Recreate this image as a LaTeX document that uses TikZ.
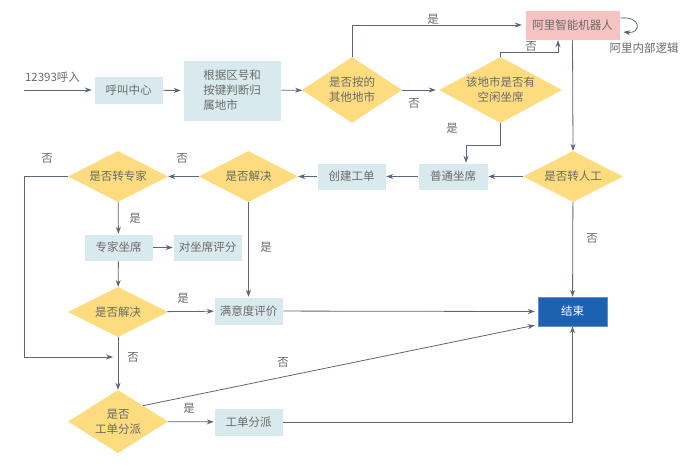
\documentclass[tikz,border=0pt]{standalone}
\usepackage{fontspec}
\setmainfont{Noto Sans CJK SC}
\usetikzlibrary{shapes.geometric,arrows.meta}
\definecolor{boxfill}{HTML}{D9EAEE}
\definecolor{dfill}{HTML}{FCDC7E}
\definecolor{pinkfill}{HTML}{F7C2C2}
\definecolor{bluefill}{HTML}{1D62B0}
\definecolor{txt}{HTML}{6A6A6A}
\definecolor{ln}{HTML}{5D6579}
\begin{document}
\begin{tikzpicture}[x=1pt,y=-1pt,
  font=\fontsize{11.5}{15}\selectfont, text=txt,
  procbox/.style={rectangle, fill=boxfill, draw=white, line width=0.5pt, inner sep=0pt, minimum width=69pt, minimum height=28pt, align=center},
  decis/.style={diamond, fill=dfill, inner sep=0pt, minimum width=100pt, minimum height=51pt,
    label={[align=center, text=txt, inner sep=0pt]center:#1}},
  arr/.style={draw=ln, line width=0.8pt, -{Stealth[length=7pt,width=5pt]}},
  lbl/.style={inner sep=0pt}
]
\useasboundingbox (0,0) rectangle (692,469);

% nodes
\node[lbl] (inlbl) at (52.5,77) {12393呼入};
\coordinate (start) at (24,90);
\node[procbox] (call) at (128.5,90) {呼叫中心};
\node[procbox, minimum width=98pt, minimum height=61pt, align=left] (judge) at (232,90.5) {根据区号和\\按键判断归\\属地市};
\node[decis={是否按的\\其他地市}, minimum height=66pt] (d1) at (352,90) {};
\node[decis={该地市是否有\\空闲坐席}, minimum width=123pt, minimum height=66pt] (d2) at (500.5,90) {};
\node[procbox, fill=pinkfill, minimum width=95pt, minimum height=30pt] (robot) at (572.5,25) {阿里智能机器人};
\node[lbl] (inner) at (644,48) {阿里内部逻辑};
\node[decis={是否转人工}] (dman) at (573,176.5) {};
\node[procbox, minimum width=70pt, minimum height=27pt] (normal) at (453,176.5) {普通坐席};
\node[procbox, minimum height=27pt] (create) at (351.5,176.5) {创建工单};
\node[decis={是否解决}, minimum width=99pt] (ds1) at (248.5,176.5) {};
\node[decis={是否转专家}] (dexp) at (118,176.5) {};
\node[procbox, minimum height=27pt] (expert) at (118.5,247.5) {专家坐席};
\node[procbox, minimum height=27pt] (rate) at (207.5,247.5) {对坐席评分};
\node[decis={是否解决}, minimum height=50pt] (ds2) at (118,312) {};
\node[procbox] (satis) at (248.5,311) {满意度评价};
\node[procbox, fill=bluefill, draw=bluefill!70!white, minimum height=29pt, text=white] (endn) at (572.5,311.5) {结束};
\node[decis={是否\\工单分派}, minimum height=63pt] (ddisp) at (118,421.5) {};
\node[procbox] (disp) at (248.5,422) {工单分派};
\coordinate (merge) at (118,357);

% connectors
\draw[arr] (start) -- ([xshift=-2pt]call.west);
\draw[arr] (call) -- ([xshift=-2pt]judge.west);
\draw[arr] (judge) -- (d1);
\draw[arr] (d1.north) |- ([xshift=-3pt]robot.west);
\draw[arr] (d1) -- ([xshift=-3pt]d2.west);
\draw[arr] (d2.north) -- ++(0,-4) -| ([xshift=-14.5pt]robot.south);
\draw[arr] (robot.south) -- (dman.north);
\draw[arr] ([yshift=7pt]robot.east) .. controls +(22,-2) and +(18,2) .. ([xshift=3pt,yshift=-7pt]robot.east);
\draw[arr] (d2.south) -- ++(0,22) -| ([xshift=13pt]normal.north);
\draw[arr] (dman) -- (normal);
\draw[arr] (normal) -- (create);
\draw[arr] (create) -- (ds1);
\draw[arr] (ds1) -- (dexp);
\draw[arr] (dexp.west) -- ++(-43,0) |- ([xshift=-5pt]merge);
\draw[arr] (dexp) -- (expert);
\draw[arr] (expert) -- (rate);
\draw[arr] (expert) -- (ds2);
\draw[arr] (ds2) -- (satis);
\draw[arr] (ds1) -- (satis);
\draw[arr] (satis) -- ([xshift=-3pt]endn.west);
\draw[arr] (dman) -- (endn);
\draw[arr] (ds2) -- (ddisp);
\draw[arr] (ddisp.north east) -- ([xshift=-3pt,yshift=1pt]endn.south west);
\draw[arr] (ddisp) -- (disp);
\draw[arr] (disp.east) -| (endn.south);

% labels
\node[lbl] at (433,19) {是};
\node[lbl] at (414,103) {否};
\node[lbl] at (531,46) {否};
\node[lbl] at (452,128) {是};
\node[lbl] at (47,158) {否};
\node[lbl] at (182,158) {否};
\node[lbl] at (135,218) {是};
\node[lbl] at (266,247) {是};
\node[lbl] at (183,298) {是};
\node[lbl] at (592,238) {否};
\node[lbl] at (133,357) {否};
\node[lbl] at (283,362) {否};
\node[lbl] at (189,408) {是};
\end{tikzpicture}
\end{document}
